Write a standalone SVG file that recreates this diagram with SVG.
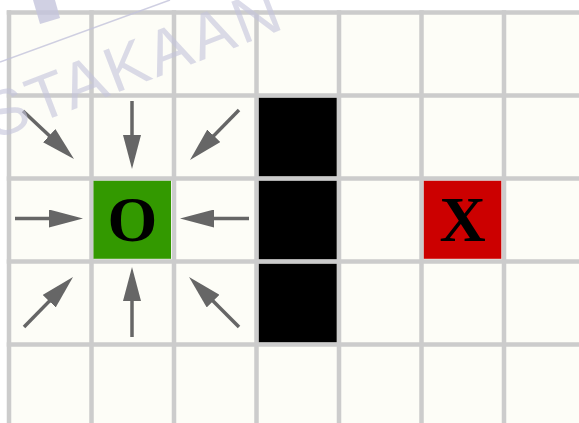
<svg xmlns="http://www.w3.org/2000/svg" width="579" height="423" viewBox="0 0 579 423">
<style>
.grid{stroke:#cccccc;stroke-width:4.5;fill:none}
.wall{fill:#000000}
.lbl{font-family:"Liberation Serif","Times New Roman",serif;font-weight:bold;font-size:64px;fill:#000;text-anchor:middle}
.arr{stroke:#666666;stroke-width:3.5;fill:none;marker-end:url(#head)}
.wm{font-family:"Liberation Sans",Arial,sans-serif;font-size:64px;letter-spacing:3px;fill:#c4c4dc;opacity:0.6}
</style>
<defs>
<marker id="head" markerUnits="userSpaceOnUse" markerWidth="34" markerHeight="18" refX="24" refY="9" orient="auto">
<path d="M0,0 L34,9 L0,18 Z" fill="#666666"/>
</marker>
</defs>
<rect x="0" y="0" width="579" height="423" fill="#ffffff"/>
<rect x="9" y="12.5" width="580" height="420" fill="#fdfdf7"/>
<g id="grid" class="grid">
<path d="M9,10.25V423 M91.5,10.25V423 M174,10.25V423 M256.5,10.25V423 M339,10.25V423 M421.5,10.25V423 M504,10.25V423 M586.5,10.25V423"/>
<path d="M6.75,12.5H579 M6.75,95.5H579 M6.75,178.5H579 M6.75,261.5H579 M6.75,344.5H579"/>
</g>
<g id="wall1"><rect class="wall" x="258.8" y="97.8" width="77.9" height="78.4"/></g>
<g id="wall2"><rect class="wall" x="258.8" y="180.8" width="77.9" height="78.4"/></g>
<g id="wall3"><rect class="wall" x="258.8" y="263.8" width="77.9" height="78.4"/></g>
<g id="start">
<rect x="93.5" y="180.8" width="77.5" height="78" fill="#339900"/>
<text class="lbl" x="132.3" y="240.5">O</text>
</g>
<g id="goal">
<rect x="423.8" y="180.8" width="77.5" height="78" fill="#cc0000"/>
<text class="lbl" x="462.5" y="240.5">X</text>
</g>
<g id="connectors">
<line class="arr" x1="23" y1="111" x2="66.7" y2="152.1"/>
<line class="arr" x1="132" y1="101" x2="132" y2="159"/>
<line class="arr" x1="239" y1="110" x2="197" y2="152.9"/>
<line class="arr" x1="15" y1="218.5" x2="73" y2="218.5"/>
<line class="arr" x1="249" y1="218.5" x2="190" y2="218.5"/>
<line class="arr" x1="24" y1="327" x2="66" y2="284.1"/>
<line class="arr" x1="132" y1="337" x2="132" y2="277"/>
<line class="arr" x1="239" y1="327" x2="196.1" y2="284.1"/>
</g>
<g id="watermark">
<text class="wm" transform="translate(-6,140) rotate(-21)">STAKAAN</text>
<line x1="0" y1="62" x2="170" y2="0" stroke="#c4c4dc" stroke-width="1.5" opacity="0.8"/>
<polygon points="33,0 55,0 60,18 40,24" fill="#c4c4dc" opacity="0.8"/>
</g>
</svg>
